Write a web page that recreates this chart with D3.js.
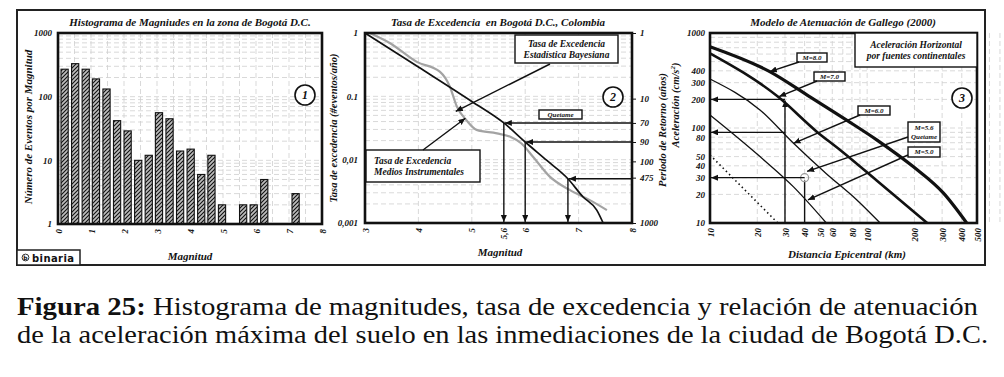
<!DOCTYPE html>
<meta charset="utf-8">
<style>
    body { margin: 0; background: #fff; }
    svg text { font-family: "Liberation Serif", "Times New Roman", serif; font-weight: bold; font-style: italic; fill: #111; }
    .grid line { stroke: #cfcfcf; stroke-width: 0.8px; stroke-dasharray: 5,3; }
    .tick line { stroke: #111; }
</style>
<body>
<script src="https://d3js.org/d3.v7.min.js"></script>
<script>
// --- panel 1: histogram
var histMag = [0.2, 0.52, 0.84, 1.15, 1.47, 1.79, 2.11, 2.43, 2.75, 3.06, 3.38, 3.70, 4.02, 4.34, 4.65, 4.97, 5.61, 5.93, 6.25, 7.2];
var histCount = [270, 330, 270, 190, 132, 42, 29, 10, 12, 56, 45, 14, 15, 6, 12, 2, 2, 2, 5, 3];
var histTicksX = [0, 1, 2, 3, 4, 5, 6, 7, 8];
var histTicksY = [1, 10, 100, 1000];

// --- panel 2: exceedance rate
var bayesMag = [3, 4, 5, 5.6, 6, 6.4, 6.8, 7.08, 7.34, 7.46];
var bayesTasa = [1, 0.29, 0.083, 0.038, 0.019, 0.0098, 0.005, 0.0026, 0.0016, 0.001];
var instMag = [3.09, 3.47, 3.97, 4.4, 4.59, 4.72, 4.9, 5.09, 5.47, 5.72, 5.93, 6.15, 6.46, 6.84, 7.21, 7.53];
var instTasa = [1, 0.69, 0.35, 0.245, 0.142, 0.069, 0.042, 0.0295, 0.026, 0.023, 0.018, 0.011, 0.0054, 0.0033, 0.0023, 0.0016];
var tasaTicksX = [3, 4, 5, 5.6, 6, 7, 8];
var tasaTicksXLabels = ["3", "4", "5", "5,6", "6", "7", "8"];
var tasaTicksY = [1, 0.1, 0.01, 0.001];
var tasaTicksYLabels = ["1", "0.1", "0,01", "0,001"];
var retornoLabels = ["1", "10", "70", "90", "100", "475", "1000"];
var retornoTasa = [1, 0.092, 0.038, 0.019, 0.0094, 0.0052, 0.001];
var refMag = [5.6, 6, 6.8];
var refTasa = [0.038, 0.019, 0.005];

// --- panel 3: attenuation (Gallego 2000)
var distM8 = [10, 24, 43, 74, 115, 197, 306, 430];
var accM8 = [718, 392, 214, 121, 75, 39, 20.6, 10];
var distM7 = [10, 27, 48, 67, 115, 241];
var accM7 = [611, 214, 91, 59, 28, 10];
var distM6 = [10, 20.8, 34, 55, 86, 121];
var accM6 = [328, 155, 69, 33, 17.5, 10];
var distM5 = [10, 20.8, 34, 55];
var accM5 = [137, 50, 24, 10];
var distPunt = [10, 27];
var accPunt = [52, 10];
var refDist = [30, 30, 40];
var refAcc = [200, 90, 30];
var distTicks = [10, 20, 30, 40, 50, 60, 80, 100, 200, 300, 400, 500];
var accTicks = [10, 20, 30, 40, 50, 80, 100, 200, 300, 400, 1000];

var svg = d3.select("body").append("svg")
    .attr("width", 1004)
    .attr("height", 377);

var defs = svg.append("defs");
defs.append("marker")
    .attr("id", "arrow")
    .attr("markerUnits", "userSpaceOnUse")
    .attr("markerWidth", 8).attr("markerHeight", 8)
    .attr("refX", 7).attr("refY", 3)
    .attr("orient", "auto")
    .append("path").attr("d", "M0,0 L7,3 L0,6 z").attr("fill", "#111");

var hatch = defs.append("pattern")
    .attr("id", "hatch")
    .attr("patternUnits", "userSpaceOnUse")
    .attr("width", 4).attr("height", 4);
hatch.append("rect").attr("width", 4).attr("height", 4).attr("fill", "#bdbdbd");
hatch.append("path")
    .attr("d", "M-1,1 l2,-2 M0,4 l4,-4 M3,5 l2,-2")
    .attr("stroke", "#111").attr("stroke-width", 1.1);

// outer frame
svg.append("rect")
    .attr("x", 17).attr("y", 10).attr("width", 968).attr("height", 255)
    .attr("fill", "none").attr("stroke", "#222").attr("stroke-width", 2);

function styleAxis(g, size) {
    g.select(".domain").remove();
    g.selectAll("text").style("font-size", size + "px").attr("fill", "#111");
}

function rotTicks(g) {
    g.selectAll("text")
        .attr("transform", "rotate(-90)")
        .attr("x", -5).attr("y", 0).attr("dy", "0.35em")
        .style("text-anchor", "end");
}

function hgrid(g, vals, y, x0, x1) {
    g.append("g").attr("class", "grid").selectAll("line").data(vals).enter().append("line")
        .attr("x1", x0).attr("x2", x1)
        .attr("y1", function(d) { return y(d); }).attr("y2", function(d) { return y(d); });
}
function vgrid(g, vals, x, y0, y1) {
    g.append("g").attr("class", "grid").selectAll("line").data(vals).enter().append("line")
        .attr("y1", y0).attr("y2", y1)
        .attr("x1", function(d) { return x(d); }).attr("x2", function(d) { return x(d); });
}
function logMinors(lo, hi) {
    var out = [];
    for (var dec = lo; dec < hi; dec *= 10)
        for (var k = 1; k < 10; k++) if (dec * k > lo) out.push(dec * k);
    return out;
}
function frame(g, x0, y0, x1, y1) {
    g.append("rect").attr("x", x0).attr("y", y0).attr("width", x1 - x0).attr("height", y1 - y0)
        .attr("fill", "none").attr("stroke", "#111").attr("stroke-width", 2.6);
}
function title(txt, x, y, size) {
    svg.append("text").attr("x", x).attr("y", y).attr("text-anchor", "middle")
        .style("font-size", (size || 11) + "px").style("white-space", "pre").text(txt);
}
function vlabel(txt, x, y, size) {
    svg.append("text").attr("transform", "translate(" + x + "," + y + ") rotate(-90)")
        .attr("text-anchor", "middle").attr("dy", "0.35em")
        .style("font-size", (size || 11) + "px").text(txt);
}
function circled(txt, x, y) {
    svg.append("circle").attr("cx", x).attr("cy", y).attr("r", 10)
        .attr("fill", "#fff").attr("stroke", "#111").attr("stroke-width", 1.6);
    svg.append("text").attr("x", x).attr("y", y).attr("dy", "0.35em").attr("text-anchor", "middle")
        .style("font-size", "12px").text(txt);
}
function box(x, y, w, h, lines, size, anchor) {
    svg.append("rect").attr("x", x).attr("y", y).attr("width", w).attr("height", h)
        .attr("fill", "#fff").attr("stroke", "#111").attr("stroke-width", 1.4);
    var t = svg.append("text").style("font-size", size + "px")
        .attr("text-anchor", anchor || "middle");
    var tx = anchor === "start" ? x + 8 : x + w / 2;
    var lh = size * 1.2;
    var y0 = y + h / 2 - (lines.length - 1) * lh / 2;
    lines.forEach(function(l, i) {
        t.append("tspan").attr("x", tx).attr("y", y0 + i * lh).attr("dy", "0.35em").text(l);
    });
}
function arrow(x1, y1, x2, y2, w) {
    svg.append("line").attr("x1", x1).attr("y1", y1).attr("x2", x2).attr("y2", y2)
        .attr("stroke", "#111").attr("stroke-width", w || 1.4).attr("marker-end", "url(#arrow)");
}

// ================= panel 1
var x1 = d3.scaleLinear().domain([0, 8]).range([58, 322]);
var y1 = d3.scaleLog().domain([1, 1000]).range([224, 33]);
var g1 = svg.append("g");
hgrid(g1, logMinors(1, 1000), y1, 58, 322);
vgrid(g1, d3.range(0.5, 8, 0.5), x1, 33, 224);

g1.selectAll("rect.bar").data(histMag).enter().append("rect")
    .attr("class", "bar")
    .attr("x", function(d) { return x1(d) - 3.6; })
    .attr("width", 7.2)
    .attr("y", function(d, i) { return y1(histCount[i]); })
    .attr("height", function(d, i) { return y1(1) - y1(histCount[i]); })
    .attr("fill", "url(#hatch)")
    .attr("stroke", "#111").attr("stroke-width", 1.1);

g1.append("g").attr("transform", "translate(58,0)")
    .call(d3.axisLeft(y1).tickValues(histTicksY).tickFormat(d3.format("d")).tickSize(0).tickPadding(6))
    .call(styleAxis, 9);
g1.append("g").attr("transform", "translate(0,224)")
    .call(d3.axisBottom(x1).tickValues(histTicksX).tickFormat(d3.format("d")).tickSize(0))
    .call(styleAxis, 9).call(rotTicks);
frame(g1, 58, 33, 322, 224);
title("Histograma de Magniudes en la zona de Bogotá D.C.", 190, 26);
vlabel("Número de Eventos por Magnitud", 28, 127);
title("Magnitud", 190, 260);
circled("1", 305, 95);

// binaria logo
svg.append("rect").attr("x", 17).attr("y", 250).attr("width", 63).attr("height", 15)
    .attr("fill", "#fff").attr("stroke", "#222").attr("stroke-width", 1.5);
svg.append("circle").attr("cx", 25.5).attr("cy", 257.5).attr("r", 3.4)
    .attr("fill", "none").attr("stroke", "#333").attr("stroke-width", 1);
svg.append("text").attr("x", 25.5).attr("y", 260)
    .attr("text-anchor", "middle")
    .style("font-family", "'DejaVu Sans', sans-serif").style("font-style", "normal")
    .style("font-size", "6px").attr("fill", "#333").text("b");
svg.append("text").attr("x", 32).attr("y", 261.5)
    .style("font-family", "'DejaVu Sans', sans-serif").style("font-style", "normal")
    .style("font-weight", "bold").style("font-size", "10px").style("letter-spacing", "0.4px")
    .attr("fill", "#333").text("binaria");

// ================= panel 2
var x2 = d3.scaleLinear().domain([3, 8]).range([365, 632]);
var y2 = d3.scaleLog().domain([0.001, 1]).range([223, 33]);
var g2 = svg.append("g");
hgrid(g2, logMinors(0.001, 1), y2, 365, 632);
vgrid(g2, [4, 5, 6, 7], x2, 33, 223);

var line2 = d3.line().curve(d3.curveMonotoneX)
    .x(function(d) { return x2(d[0]); }).y(function(d) { return y2(d[1]); });
g2.append("path").datum(d3.zip(instMag, instTasa)).attr("d", line2)
    .attr("fill", "none").attr("stroke", "#a3a3a3").attr("stroke-width", 2.2);
g2.append("path").datum(d3.zip(bayesMag, bayesTasa)).attr("d", line2)
    .attr("fill", "none").attr("stroke", "#111").attr("stroke-width", 1.7);

g2.append("g").attr("transform", "translate(365,0)")
    .call(d3.axisLeft(y2).tickValues(tasaTicksY).tickFormat(function(d, i) { return tasaTicksYLabels[i]; }).tickSize(0).tickPadding(7))
    .call(styleAxis, 9);
g2.append("g").attr("transform", "translate(632,0)")
    .call(d3.axisRight(y2).tickValues(retornoTasa).tickFormat(function(d, i) { return retornoLabels[i]; }).tickSize(4).tickPadding(4))
    .call(styleAxis, 9);
g2.append("g").attr("transform", "translate(0,223)")
    .call(d3.axisBottom(x2).tickValues(tasaTicksX).tickFormat(function(d, i) { return tasaTicksXLabels[i]; }).tickSize(0))
    .call(styleAxis, 9).call(rotTicks);

// reference arrows (right axis -> curve -> magnitude)
refMag.forEach(function(m, i) {
    arrow(632, y2(refTasa[i]), x2(m) + 1, y2(refTasa[i]));
    arrow(x2(m), y2(refTasa[i]), x2(m), 222);
});
frame(g2, 365, 33, 632, 223);

box(515, 35, 103, 28, ["Tasa de Excedencia", "Estadística Bayesiana"], 9.5);
arrow(550, 64, x2(4.7), y2(0.058));
box(539, 110, 43, 9, ["Quetame"], 7);
box(366, 150, 114, 32, ["Tasa de Excedencia", "Medios Instrumentales"], 9.5, "start");
arrow(423, 150, x2(4.88), y2(0.045));
circled("2", 613, 97);

title("Tasa de Excedencia  en Bogotá D.C., Colombia", 498, 26);
vlabel("Tasa de excedencia (#eventos/año)", 333, 128, 10.5);
vlabel("Periodo de Retorno (años)", 662, 130, 10.5);
title("Magnitud", 500, 256);

// ================= panel 3
var x3 = d3.scaleLog().domain([10, 500]).range([710, 977]);
var y3 = d3.scaleLog().domain([10, 1000]).range([223, 33]);
var g3 = svg.append("g");
hgrid(g3, logMinors(10, 1000), y3, 710, 977);
vgrid(g3, logMinors(10, 500), x3, 33, 223);

var line3 = d3.line().curve(d3.curveMonotoneX)
    .x(function(d) { return x3(d[0]); }).y(function(d) { return y3(d[1]); });
var curves = [
    [distM8, accM8, 3.2, null],
    [distM7, accM7, 2.6, null],
    [distM6, accM6, 1.3, null],
    [distM5, accM5, 1.3, null],
    [distPunt, accPunt, 1.6, "1.5,3"]
];
curves.forEach(function(c) {
    g3.append("path").datum(d3.zip(c[0], c[1])).attr("d", line3)
        .attr("fill", "none").attr("stroke", "#111").attr("stroke-width", c[2])
        .attr("stroke-dasharray", c[3]);
});

// reference lines distance -> acceleration
refDist.forEach(function(d, i) {
    arrow(x3(d), y3(refAcc[i]), 711, y3(refAcc[i]));
});
arrow(x3(30), 223, x3(30), y3(200) + 1);
g3.append("line").attr("x1", x3(40)).attr("x2", x3(40)).attr("y1", 223).attr("y2", y3(28))
    .attr("stroke", "#111").attr("stroke-width", 1.4);
g3.append("circle").attr("cx", x3(40)).attr("cy", y3(30)).attr("r", 4)
    .attr("fill", "none").attr("stroke", "#999").attr("stroke-width", 1.2);

g3.append("g").attr("transform", "translate(710,0)")
    .call(d3.axisLeft(y3).tickValues(accTicks).tickFormat(d3.format("d")).tickSize(0).tickPadding(5))
    .call(styleAxis, 9);
g3.append("g").attr("transform", "translate(0,223)")
    .call(d3.axisBottom(x3).tickValues(distTicks).tickFormat(d3.format("d")).tickSize(0))
    .call(styleAxis, 9).call(rotTicks);
frame(g3, 710, 33, 977, 223);

box(855, 33, 122, 34, ["Aceleración Horizontal", "por fuentes continentales"], 9.5);
box(797, 53, 30, 9, ["M=8.0"], 7);
arrow(799, 62, x3(24), y3(392));
box(814, 72, 31, 9, ["M=7.0"], 7);
arrow(817, 81, x3(27.5), y3(214));
box(858, 106, 32, 9, ["M=6.0"], 7);
arrow(860, 115, x3(34), y3(69));
box(908, 122, 32, 20, ["M=5.6", "Quetame"], 7);
arrow(908, 137, x3(41.5), y3(35));
box(908, 147, 32, 10, ["M=5.0"], 7);
arrow(908, 155, x3(42), y3(17.5));
circled("3", 962, 98);

title("Modelo de Atenuación de Gallego (2000)", 843, 26);
var al = svg.append("text").attr("transform", "translate(675,105) rotate(-90)")
    .attr("text-anchor", "middle").attr("dy", "0.35em").style("font-size", "10.5px");
al.append("tspan").text("Aceleración (cm/s");
al.append("tspan").attr("baseline-shift", "super").style("font-size", "7px").text("2");
al.append("tspan").text(")");
title("Distancia Epicentral (km)", 847, 258);

// ================= caption
var capFont = "'Liberation Serif', serif";
var c1 = svg.append("text").attr("x", 17).attr("y", 315)
    .attr("textLength", 961).attr("lengthAdjust", "spacingAndGlyphs")
    .style("font-family", capFont).style("font-style", "normal").style("font-weight", "normal")
    .style("font-size", "25px");
c1.append("tspan").style("font-weight", "bold").text("Figura 25:");
c1.append("tspan").text(" Histograma de magnitudes, tasa de excedencia y relación de atenuación");
svg.append("text").attr("x", 17).attr("y", 343)
    .attr("textLength", 971).attr("lengthAdjust", "spacingAndGlyphs")
    .style("font-family", capFont).style("font-style", "normal").style("font-weight", "normal")
    .style("font-size", "25px")
    .text("de la aceleración máxima del suelo en las inmediaciones de la ciudad de Bogotá D.C.");
</script>
</body>
</html>
